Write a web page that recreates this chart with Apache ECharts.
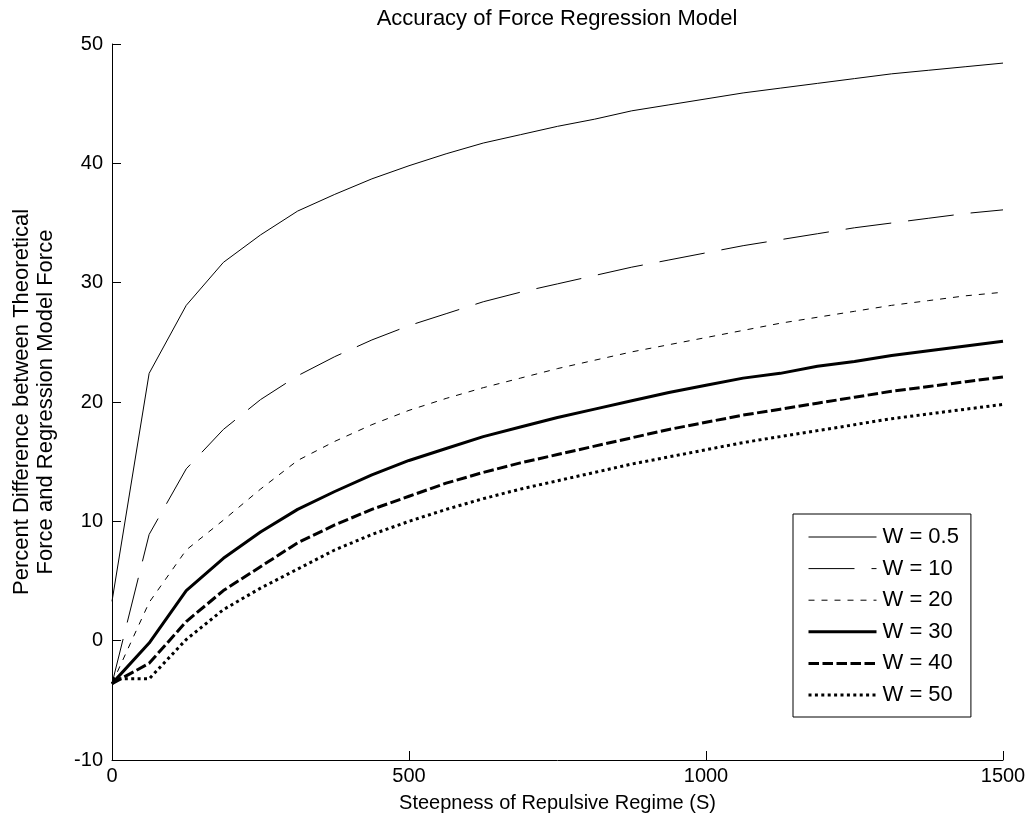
<!DOCTYPE html>
<html>
<head>
<meta charset="utf-8">
<script src="https://cdn.jsdelivr.net/npm/echarts@6/dist/echarts.min.js"></script>
<style>
  html, body { margin: 0; padding: 0; background: #fff; }
  #chart { width: 1032px; height: 822px; }
</style>
</head>
<body>
<div id="chart"></div>
<script>
// Steepness of the repulsive regime (S)
const steepness = [0, 62.5, 125, 187.5, 250, 312.5, 375, 437.5, 500, 562.5, 625, 687.5,
  750, 812.5, 875, 937.5, 1000, 1062.5, 1125, 1187.5, 1250, 1312.5, 1375, 1437.5, 1500];

// Percent difference between theoretical and regression model force, per width W
const w05 = [3.3, 22.4, 28.1, 31.7, 34.0, 36.0, 37.4, 38.7, 39.8, 40.8, 41.7, 42.4,
  43.1, 43.7, 44.4, 44.9, 45.4, 45.9, 46.3, 46.7, 47.1, 47.5, 47.8, 48.1, 48.4];
const w10 = [-3.6, 8.9, 14.4, 17.7, 20.2, 22.2, 23.8, 25.2, 26.4, 27.4, 28.4, 29.2,
  29.9, 30.6, 31.3, 31.9, 32.5, 33.1, 33.6, 34.1, 34.6, 35.0, 35.4, 35.8, 36.1];
const w20 = [-3.6, 3.2, 7.6, 10.1, 12.7, 15.1, 16.7, 18.1, 19.3, 20.3, 21.2, 22.0,
  22.8, 23.5, 24.2, 24.8, 25.4, 26.0, 26.6, 27.1, 27.6, 28.1, 28.5, 28.9, 29.2];
const w30 = [-3.6, -0.2, 4.2, 6.9, 9.1, 11.0, 12.5, 13.9, 15.1, 16.1, 17.1, 17.9,
  18.7, 19.4, 20.1, 20.8, 21.4, 22.0, 22.4, 23.0, 23.4, 23.9, 24.3, 24.7, 25.1];
const w40 = [-3.6, -1.9, 1.6, 4.2, 6.2, 8.2, 9.7, 11.0, 12.1, 13.2, 14.1, 14.9,
  15.6, 16.3, 17.0, 17.7, 18.3, 18.9, 19.4, 19.9, 20.4, 20.9, 21.3, 21.7, 22.1];
const w50 = [-3.2, -3.2, 0.1, 2.6, 4.4, 6.0, 7.6, 8.9, 10.0, 11.0, 11.9, 12.7,
  13.4, 14.1, 14.8, 15.4, 16.0, 16.6, 17.1, 17.6, 18.1, 18.6, 19.0, 19.4, 19.8];

const seriesNames = ['W = 0.5', 'W = 10', 'W = 20', 'W = 30', 'W = 40', 'W = 50'];

const xTicks = [0, 500, 1000, 1500];
const yTicks = [-10, 0, 10, 20, 30, 40, 50];

const FONT = '"Liberation Sans", Arial, Helvetica, sans-serif';

function pairs(ys) {
  return steepness.map((s, i) => [s, ys[i]]);
}

// line styles: thin solid, dash-dot, short dash, thick solid, thick dash, thick dot
const styles = [
  { width: 1, type: 'solid' },
  { width: 1, type: [46, 17] },
  { width: 1, type: [6, 7] },
  { width: 3, type: 'solid' },
  { width: 3, type: [10.5, 3.5] },
  { width: 3, type: [3, 3.4] }
];

const values = [w05, w10, w20, w30, w40, w50];

const series = values.map((v, i) => ({
  name: seriesNames[i],
  type: 'line',
  data: pairs(v),
  symbol: 'none',
  showSymbol: false,
  smooth: false,
  lineStyle: {
    color: '#000',
    width: styles[i].width,
    type: styles[i].type,
    cap: 'butt'
  },
  itemStyle: { color: '#000' },
  emphasis: { disabled: true }
}));

const chart = echarts.init(document.getElementById('chart'), null, { renderer: 'canvas' });

chart.setOption({
  animation: false,
  backgroundColor: '#fff',
  textStyle: { fontFamily: FONT, color: '#000' },
  title: {
    text: 'Accuracy of Force Regression Model',
    left: 552,
    top: 3,
    textAlign: 'center',
    textStyle: { fontFamily: FONT, fontSize: 22, fontWeight: 'normal', color: '#000' }
  },
  grid: { left: 112, top: 44, right: 29, bottom: 62, containLabel: false },
  legend: {
    orient: 'vertical',
    left: 793,
    top: 514,
    padding: [12, 12, 11, 14],
    itemWidth: 68,
    itemHeight: 14,
    itemGap: 9.6,
    borderColor: '#000',
    borderWidth: 1,
    backgroundColor: '#fff',
    data: seriesNames,
    selectedMode: false,
    itemStyle: { opacity: 0 },
    lineStyle: { width: 'inherit', type: 'inherit', color: '#000', cap: 'butt' },
    textStyle: { fontFamily: FONT, fontSize: 22, color: '#000', padding: [0, 0, 0, 1] }
  },
  xAxis: {
    type: 'value',
    min: xTicks[0],
    max: xTicks[xTicks.length - 1],
    interval: xTicks[1] - xTicks[0],
    name: 'Steepness of Repulsive Regime (S)',
    nameLocation: 'middle',
    nameGap: 33,
    nameTextStyle: { fontFamily: FONT, fontSize: 20, color: '#000' },
    axisLine: { onZero: false, lineStyle: { color: '#000', width: 1 } },
    axisTick: { inside: true, length: 9, lineStyle: { color: '#000' } },
    axisLabel: { fontFamily: FONT, fontSize: 20, color: '#000', margin: 6, formatter: v => String(v) },
    splitLine: { show: false }
  },
  yAxis: {
    type: 'value',
    min: yTicks[0],
    max: yTicks[yTicks.length - 1],
    interval: yTicks[1] - yTicks[0],
    name: 'Percent Difference between Theoretical\nForce and Regression Model Force',
    nameLocation: 'middle',
    nameRotate: 90,
    nameGap: 54,
    nameTextStyle: { fontFamily: FONT, fontSize: 22, color: '#000', lineHeight: 24 },
    axisLine: { show: true, onZero: false, lineStyle: { color: '#000', width: 1 } },
    axisTick: { show: true, inside: true, length: 9, lineStyle: { color: '#000' } },
    axisLabel: { fontFamily: FONT, fontSize: 20, color: '#000', margin: 9, formatter: v => String(v) },
    splitLine: { show: false }
  },
  series: series
});
</script>
</body>
</html>
